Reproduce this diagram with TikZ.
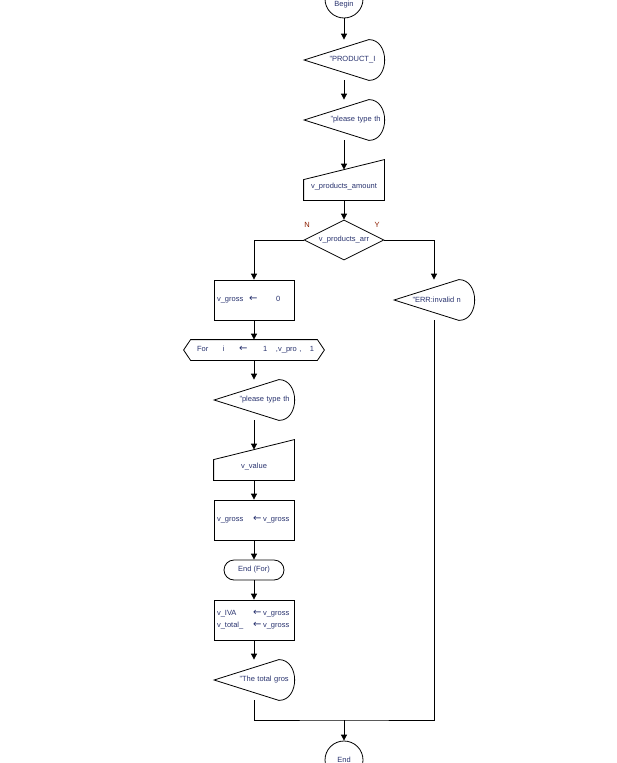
\documentclass[tikz,border=0pt]{standalone}
\usepackage{fontspec}
\setmainfont{Liberation Sans}
\newfontfamily\arrowfont{DejaVu Sans}
\newcommand{\assignarrow}{{\arrowfont\fontsize{10}{12}\selectfont ←}}
\usetikzlibrary{arrows.meta,shapes.geometric}
\definecolor{txtblue}{RGB}{40,50,110}
\definecolor{ynred}{RGB}{140,30,0}
\tikzset{
	every node/.style={font=\fontsize{7.5}{12}\selectfont, text=txtblue},
	term/.style={draw, circle, minimum size=38pt, inner sep=0pt},
	box/.style={draw, minimum width=80pt, minimum height=40pt, inner sep=0pt, text width=76pt, align=left},
	outbox/.style={minimum width=79pt, minimum height=40pt, inner sep=0pt, text width=79pt, align=left},
	inbox/.style={minimum width=80pt, minimum height=30pt, inner sep=0pt},
	hexbox/.style={minimum width=140pt, minimum height=20pt, inner sep=0pt, text width=128pt, align=left},
	decision/.style={draw, diamond, aspect=2, minimum width=80pt, minimum height=40pt, inner sep=0pt},
	loopend/.style={draw, rounded corners=10pt, minimum width=60pt, minimum height=20pt, inner sep=0pt},
	yn/.style={text=ynred},
	arr/.style={-{Triangle[length=6pt,width=6pt]}}
}
\begin{document}
\begin{tikzpicture}[x=1pt, y=-1pt, line width=.8pt]
	\useasboundingbox (0,0) rectangle (616,763);
	\node[term]     (begin) at (344,-1)  {\raisebox{-7pt}[0pt][0pt]{Begin}};
	\node[outbox]   (o1)    at (344,60)  {\hspace*{25pt}"PRODUCT\_I};
	\node[outbox]   (o2)    at (344,120) {\hspace*{26pt}"please type th};
	\node[inbox]    (in1)   at (344,185) {\raisebox{-3pt}[0pt][0pt]{v\_products\_amount}};
	\node[decision] (dec)   at (344,240) {v\_products\_arr};
	\node[yn]       (lblN)  at (307,225) {N};
	\node[yn]       (lblY)  at (377,225) {Y};
	\node[box]      (b1)    at (254,300) {\hspace*{1pt}\makebox[32pt][l]{v\_gross}\makebox[27pt][l]{\assignarrow}0};
	\node[outbox]   (o5)    at (434,300) {\hspace*{18pt}"ERR:invalid n};
	\node[hexbox]   (loop)  at (254,350) {\hspace*{7pt}\makebox[26pt][l]{For}\makebox[16pt][l]{i}\makebox[24pt][l]{\assignarrow}\makebox[13pt][l]{1}\makebox[34pt][l]{,v\_pro ,}1};
	\node[outbox]   (o3)    at (254,400) {\hspace*{25pt}"please type th};
	\node[inbox]    (in2)   at (254,465) {\raisebox{-3pt}[0pt][0pt]{v\_value}};
	\node[box]      (b2)    at (254,520) {\hspace*{1pt}\makebox[36pt][l]{v\_gross}\makebox[10pt][l]{\assignarrow}v\_gross};
	\node[loopend]  (lend)  at (254,570) {End (For)};
	\node[box]      (b3)    at (254,620) {\hspace*{1pt}\makebox[36pt][l]{v\_IVA}\makebox[10pt][l]{\assignarrow}v\_gross\\\hspace*{1pt}\makebox[36pt][l]{v\_total\_}\makebox[10pt][l]{\assignarrow}v\_gross};
	\node[outbox]   (o4)    at (254,680) {\hspace*{25pt}"The total gros};
	\node[term]     (end)   at (344,760) {End};
	\coordinate     (join)  at (344,720);
	\foreach \n in {o1,o2,o3,o4,o5}
		\draw (\n.west) -- ([xshift=-15pt]\n.north east) .. controls ([xshift=6pt]\n.north east) and ([xshift=6pt]\n.south east) .. ([xshift=-15pt]\n.south east) -- cycle;
	\foreach \n in {in1,in2}
		\draw (\n.south west) -- (\n.south east) -- ([yshift=10pt]\n.north east) -- ([yshift=-10pt]\n.north west) -- cycle;
	\draw (loop.west) -- ([xshift=7pt]loop.north west) -- ([xshift=-7pt]loop.north east) -- (loop.east) -- ([xshift=-7pt]loop.south east) -- ([xshift=7pt]loop.south west) -- cycle;
	\draw[arr] (begin) -- (o1);
	\draw[arr] (o1) -- (o2);
	\draw[arr] (o2) -- (in1);
	\draw[arr] (in1) -- (dec);
	\draw[arr] (dec.west) -| (b1);
	\draw[arr] (dec.east) -| (o5);
	\draw[arr] (b1) -- (loop);
	\draw[arr] (loop) -- (o3);
	\draw[arr] (o3) -- (in2);
	\draw[arr] (in2) -- (b2);
	\draw[arr] (b2) -- (lend);
	\draw[arr] (lend) -- (b3);
	\draw[arr] (b3) -- (o4);
	\draw (o4.south) |- (join) -| (o5.south);
	\draw[arr] (join) -- (end);
\end{tikzpicture}
\end{document}
